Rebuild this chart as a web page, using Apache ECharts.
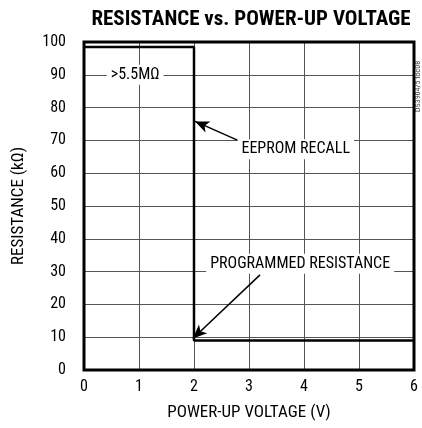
<!DOCTYPE html>
<html><head><meta charset="utf-8">
<script src="https://cdn.jsdelivr.net/npm/echarts@6/dist/echarts.min.js"></script>
<style>html,body{margin:0;padding:0;background:#fff}#c{width:422px;height:428px}</style>
</head><body><div id="c"></div>
<script>
const voltage = [0, 2, 2, 6];
const resistance = [98.5, 98.5, 9, 9];
const xTicks = [0, 1, 2, 3, 4, 5, 6];
const yTicks = [0, 10, 20, 30, 40, 50, 60, 70, 80, 90, 100];
const notes = [
  {text: '>5.5MΩ', at: [0.93, 90]},
  {text: 'EEPROM RECALL', at: [3.85, 67.3]},
  {text: 'PROGRAMMED RESISTANCE', at: [3.93, 32.4]}
];
const arrows = [
  {from: [3.27, 66.5], to: [2.02, 75.8]},
  {from: [3.2, 29.0], to: [1.98, 9.6]}
];
const F = '"Liberation Sans Narrow", "Roboto Condensed", "Liberation Sans", sans-serif';
const chart = echarts.init(document.getElementById('c'));
chart.setOption({
  animation: false,
  title: {text: 'RESISTANCE vs. POWER-UP VOLTAGE', left: 246, top: 4, textAlign: 'center',
    textStyle: {fontFamily: F, fontWeight: 'bold', fontSize: 21, color: '#000'}},
  grid: {left: 84, right: 8, top: 42, bottom: 58, show: true, borderColor: '#000', borderWidth: 3, z: 10},
  xAxis: {type: 'value', min: 0, max: 6, interval: 1,
    name: 'POWER-UP VOLTAGE (V)', nameLocation: 'middle', nameGap: 34,
    nameTextStyle: {fontFamily: F, fontSize: 17, color: '#000'},
    axisLine: {show: false}, axisTick: {show: false},
    axisLabel: {fontFamily: F, fontSize: 16, color: '#000', margin: 9, formatter: v => xTicks.includes(v) ? String(v) : ''},
    splitLine: {lineStyle: {color: '#555', width: 1}}},
  yAxis: {type: 'value', min: 0, max: 100, interval: 10,
    name: 'RESISTANCE (kΩ)', nameLocation: 'middle', nameGap: 57,
    nameTextStyle: {fontFamily: F, fontSize: 17, color: '#000'},
    axisLine: {show: false}, axisTick: {show: false},
    axisLabel: {fontFamily: F, fontSize: 16, color: '#000', margin: 18, formatter: v => yTicks.includes(v) ? String(v) : ''},
    splitLine: {lineStyle: {color: '#555', width: 1}}},
  graphic: [{type: 'text', x: 414, y: 112, rotation: Math.PI/2,
    style: {text: 'DS3904/5 toc08', fontFamily: F, fontSize: 8, fill: '#444', verticalAlign: 'top'}}],
  series: [{
    type: 'line', symbol: 'none', z: 5,
    data: voltage.map((v, i) => [v, resistance[i]]),
    lineStyle: {color: '#000', width: 2.5},
    markLine: {silent: true, symbol: ['none', 'arrow'], symbolSize: [9, 14],
      lineStyle: {color: '#000', width: 1.5, type: 'solid'}, label: {show: false},
      data: arrows.map(a => [{coord: a.from}, {coord: a.to}])},
    markPoint: {silent: true, symbol: 'rect', symbolSize: 0,
      label: {show: true, position: 'inside', fontFamily: F, fontSize: 16, color: '#000',
        backgroundColor: '#fff', padding: [2, 4], formatter: p => p.name},
      data: notes.map(n => ({name: n.text, coord: n.at}))}
  }]
});
</script></body></html>
